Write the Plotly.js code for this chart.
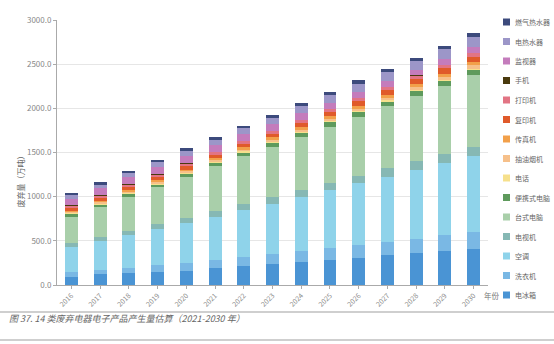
<!DOCTYPE html>
<html><head><meta charset="utf-8">
<script src="https://cdn.plot.ly/plotly-3.0.1.min.js"></script>
<style>html,body{margin:0;padding:0;background:#fff}#c{width:554px;height:344px}</style>
</head><body><div id="c"></div>
<script>
const years = ['2016','2017','2018','2019','2020','2021','2022','2023','2024','2025','2026','2027','2028','2029','2030'];
// bottom to top
const fridge   = [88,128,136,147,162,188,212,235,262,283,305,335,358,385,410];
const washer   = [58,44,60,76,90,95,101,116,123,132,148,152,166,177,190];
const aircon   = [288,326,370,407,446,490,536,566,608,660,697,738,778,815,855];
const tv       = [45,45,49,60,66,66,68,76,80,78,84,94,98,105,108];
const desktop  = [296,343,385,419,460,509,543,573,604,641,672,705,740,769,811];
const laptop   = [26,24,27,28,30,35,40,42,45,48,50,53,56,58,60];
const phone    = [12,12,12,12,13,13,13,14,14,15,15,16,16,17,17];
const hood     = [14,15,16,17,18,19,20,22,24,25,27,29,31,33,35];
const fax      = [15,16,18,19,21,22,24,26,27,28,30,31,33,35,36];
const copier   = [28,30,32,34,36,38,40,42,45,48,51,54,57,60,64];
const printer  = [25,26,28,29,31,30,30,32,33,34,36,36,37,40,42];
const mobile   = [8,8,7,7,7,6,6,5,5,4,4,3,2,2,1];
const monitor  = [76,80,82,82,84,74,72,72,73,70,70,68,66,67,66];
const eheater  = [38,40,46,52,58,62,67,72,80,84,90,94,98,108,116];
const gheater  = [28,25,26,26,28,28,28,31,34,35,38,37,37,38,38];

const names = ['电冰箱','洗衣机','空调','电视机','台式电脑','便携式电脑','电话','抽油烟机','传真机','复印机','打印机','手机','监视器','电热水器','燃气热水器'];
const series = [fridge,washer,aircon,tv,desktop,laptop,phone,hood,fax,copier,printer,mobile,monitor,eheater,gheater];
const colors = ['#4a94d4','#7ab8e4','#8fd3ea','#86b8b4','#a9cfaa','#5e9a5c','#f6e08c','#f6c08a','#f2a04a','#e05a2a','#e27484','#4a3a0e','#c47cbc','#9c96c8','#3c4a7c'];

const font = 'Noto Sans CJK SC, Noto Sans, sans-serif';
const traces = series.map((v,i)=>({
  type:'bar', x:years, y:v, name:names[i],
  marker:{color:colors[i], line:{width:0}},
  hoverinfo:'skip'
}));

const L=57, R=488, T=20, B=285;
const px = x => (x-L)/(R-L);
const py = y => (B-y)/(B-T);

const annotations = [
  {xref:'paper', yref:'paper', x:px(12), y:py(180), text:'废弃量（万吨）', textangle:-90, showarrow:false,
   font:{size:8, color:'#666'}},
  {xref:'paper', yref:'paper', x:px(482), y:py(295), xanchor:'left', yanchor:'middle', text:'年份', showarrow:false,
   font:{size:7.5, color:'#777'}},
  {xref:'paper', yref:'paper', x:px(7), y:py(327), xanchor:'left', text:'<i>图 37. 14 类废弃电器电子产品产生量估算（2021-2030 年）</i>', showarrow:false,
   font:{size:9, color:'#666'}}
];
const shapes = [
  {type:'line', xref:'paper', yref:'paper', x0:px(0), x1:px(554), y0:py(312), y1:py(312), line:{color:'#cfcfcf', width:2}},
  {type:'line', xref:'paper', yref:'paper', x0:px(0), x1:px(554), y0:py(340), y1:py(340), line:{color:'#cfcfcf', width:2}}
];
// custom legend (top: last series)
const legTop = 22, legStep = (295-22)/14;
for (let k=0;k<names.length;k++){
  const i = names.length-1-k;
  const cy = legTop + k*legStep;
  shapes.push({type:'rect', xref:'paper', yref:'paper', x0:px(503), x1:px(510), y0:py(cy-3.5), y1:py(cy+3.5),
    fillcolor:colors[i], line:{width:0}});
  annotations.push({xref:'paper', yref:'paper', x:px(513), y:py(cy), xanchor:'left', yanchor:'middle',
    text:names[i], showarrow:false, font:{size:7, color:'#666'}});
}

const layout = {
  width:554, height:344,
  margin:{l:L, r:554-R, t:T, b:344-B, pad:0},
  paper_bgcolor:'#fff', plot_bgcolor:'#fff',
  barmode:'stack', bargap:0.55,
  font:{family:font, size:8, color:'#777'},
  showlegend:false,
  xaxis:{type:'category', tickangle:-45, tickfont:{size:7, color:'#888'},
         showline:true, linecolor:'#aaa', linewidth:1, ticks:'outside', tickcolor:'#aaa', ticklen:3,
         showgrid:false, fixedrange:true},
  yaxis:{range:[0,3000], dtick:500, tickformat:'.1f', tickfont:{size:8, color:'#888'},
         showline:true, linecolor:'#aaa', linewidth:1, ticks:'outside', tickcolor:'#aaa', ticklen:3,
         gridcolor:'#e6e6e6', gridwidth:1, zeroline:false, fixedrange:true},
  annotations, shapes
};
Plotly.newPlot('c', traces, layout, {displayModeBar:false, staticPlot:true});
</script></body></html>
